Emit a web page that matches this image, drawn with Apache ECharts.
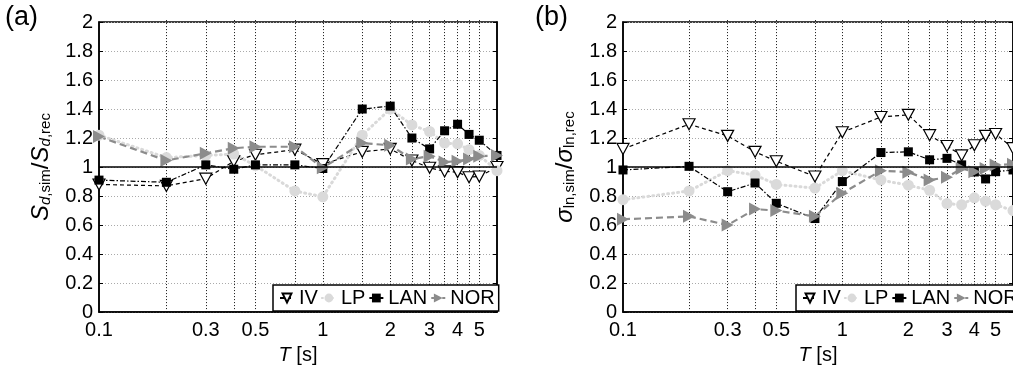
<!DOCTYPE html>
<html>
<head>
<meta charset="utf-8">
<script src="https://cdn.jsdelivr.net/npm/echarts@6/dist/echarts.min.js"></script>
<style>
html,body{margin:0;padding:0;background:#fff;}
#c{width:1013px;height:370px;}
</style>
</head>
<body>
<div id="c"></div>
<script>
const periods = [0.1,0.2,0.3,0.4,0.5,0.75,1,1.5,2,2.5,3,3.5,4,4.5,5,6];
const xTickLabels = [0.1,0.3,0.5,1,2,3,4,5];
const yTicks = [0,0.2,0.4,0.6,0.8,1,1.2,1.4,1.6,1.8,2];
const seriesNames = ['IV','LP','LAN','NOR'];

// panel (a): Sd,sim / Sd,rec
const a_IV  = [0.88,0.87,0.92,1.04,1.085,1.12,1.02,1.105,1.125,1.045,0.995,0.97,0.965,0.93,0.935,1.0];
const a_LP  = [1.22,1.065,1.08,1.09,1.01,0.835,0.795,1.22,1.40,1.29,1.245,1.165,1.16,1.12,1.08,0.975];
const a_LAN = [0.91,0.895,1.015,0.985,1.015,1.015,0.99,1.40,1.42,1.20,1.125,1.25,1.295,1.225,1.185,1.08];
const a_NOR = [1.21,1.045,1.095,1.13,1.14,1.14,0.995,1.165,1.15,1.055,1.075,1.035,1.04,1.055,1.075,1.08];

// panel (b): sigma ln,sim / sigma ln,rec
const b_IV  = [1.125,1.295,1.215,1.105,1.04,0.935,1.24,1.345,1.36,1.22,1.145,1.08,1.15,1.215,1.228,1.13];
const b_LP  = [0.775,0.835,0.975,0.945,0.88,0.855,0.975,0.91,0.875,0.84,0.748,0.74,0.788,0.765,0.74,0.70];
const b_LAN = [0.98,1.005,0.83,0.89,0.75,0.645,0.90,1.10,1.105,1.05,1.06,1.015,0.966,0.918,0.968,0.98];
const b_NOR = [0.64,0.66,0.60,0.71,0.70,0.66,0.82,0.975,0.965,0.91,0.929,0.99,0.968,0.99,1.014,1.02];

const refLine = 1;

const FONT = 'Liberation Sans, Arial, Helvetica, sans-serif';
const pair = v => periods.map((t,i)=>[t,v[i]]);

const styles = {
  IV:  {symbol:'path://M0,0 L10,0 L5,9 Z', symbolSize:[12,11], line:{color:'#000',width:1.2,type:[4,3]}, item:{color:'#fff',borderColor:'#000',borderWidth:1.2}},
  LP:  {symbol:'circle', symbolSize:11, line:{color:'#d9d9d9',width:3,type:[1,4],cap:'round'}, item:{color:'#dadada'}},
  LAN: {symbol:'rect', symbolSize:9, line:{color:'#000',width:1.2,type:[5,2,1.5,2]}, item:{color:'#000'}},
  NOR: {symbol:'path://M0,0 L9,5 L0,10 Z', symbolSize:[12,13], line:{color:'#8c8c8c',width:2.2,type:[7,4]}, item:{color:'#8c8c8c'}}
};

function mkSeries(name, data, gi){
  const s = styles[name];
  return {
    name, type:'line', xAxisIndex:gi, yAxisIndex:gi*2,
    data: pair(data), symbol:s.symbol, symbolSize:s.symbolSize,
    lineStyle:s.line, itemStyle:s.item, showSymbol:true, animation:false,
    clip:true, z:3
  };
}

const plotH = 292;
const grids = [
  {left:99, top:22, width:398, height:plotH},
  {left:623, top:22, width:395, height:plotH}
];

function xAxisOf(gi){
  return {
    type:'log', logBase:10, gridIndex:gi, min:0.1, max:6,
    name:'{it|T}{n| [s]}', nameLocation:'middle', nameGap:28,
    nameTextStyle:{rich:{it:{fontFamily:FONT,fontSize:20,fontStyle:'italic',color:'#000'},n:{fontFamily:FONT,fontSize:20,color:'#000'}}},
    axisLine:{show:true,lineStyle:{color:'#000',width:1.5}},
    axisTick:{show:true,inside:true,length:plotH,customValues:periods.slice(1,15),lineStyle:{color:'#111',width:1,type:[1,2]}},
    minorTick:{show:false},
    splitLine:{show:false},
    minorSplitLine:{show:false},
    axisLabel:{customValues:xTickLabels,fontFamily:FONT,fontSize:20,color:'#000',margin:8,formatter:v=>String(+(+v).toPrecision(3))}
  };
}
function yAxisOf(gi, nameRich){
  return [{
    type:'value', gridIndex:gi, min:0, max:2, interval:0.2,
    name:nameRich.text, nameLocation:'middle', nameGap:nameRich.gap, nameRotate:90,
    nameTextStyle:{rich:nameRich.rich},
    axisLine:{show:true,lineStyle:{color:'#000',width:1.5}},
    axisTick:{show:true,inside:true,length:4,lineStyle:{color:'#000'}},
    axisLabel:{fontFamily:FONT,fontSize:20,color:'#000',margin:6},
    splitLine:{show:true,lineStyle:{color:'#aaa',width:1,type:[1,2]}}
  },{
    type:'value', gridIndex:gi, min:0, max:2, interval:0.2, position:'right',
    axisLine:{show:true,lineStyle:{color:'#000',width:1.5}},
    axisTick:{show:true,inside:true,length:4,lineStyle:{color:'#000'}},
    axisLabel:{show:false}, splitLine:{show:false}
  }];
}

const richA = {
  text:'{it|S}{sit|d}{sub|,sim}{n|/}{it|S}{sit|d}{sub|,rec}', gap:40,
  rich:{
    it:{fontFamily:FONT,fontSize:24,fontStyle:'italic',color:'#000',lineHeight:24,verticalAlign:'top',padding:[0,0,8,0]},
    n:{fontFamily:FONT,fontSize:24,color:'#000',lineHeight:24,verticalAlign:'top',padding:[0,0,8,0]},
    sit:{fontFamily:FONT,fontSize:15,fontStyle:'italic',color:'#000',lineHeight:15,verticalAlign:'bottom'},
    sub:{fontFamily:FONT,fontSize:15,color:'#000',lineHeight:15,verticalAlign:'bottom'}
  }
};
const richB = {
  text:'{it|σ}{sub|ln,sim}{n|/}{it|σ}{sub|ln,rec}', gap:44,
  rich:{
    it:{fontFamily:FONT,fontSize:24,fontStyle:'italic',color:'#000',lineHeight:24,verticalAlign:'top',padding:[0,0,8,0]},
    n:{fontFamily:FONT,fontSize:24,color:'#000',lineHeight:24,verticalAlign:'top',padding:[0,0,8,0]},
    sub:{fontFamily:FONT,fontSize:15,color:'#000',lineHeight:15,verticalAlign:'bottom'}
  }
};

function legendOf(left){
  return {
    left:left, top:285, width:240, orient:'horizontal', data:seriesNames,
    itemWidth:14, itemHeight:11, itemGap:3,
    padding:[3,4,3,6],
    backgroundColor:'#fff', borderColor:'#000', borderWidth:1.5, borderRadius:0,
    textStyle:{fontFamily:FONT,fontSize:20,color:'#000'},
    selectedMode:false
  };
}

const series = [];
const dataA = {IV:a_IV, LP:a_LP, LAN:a_LAN, NOR:a_NOR};
const dataB = {IV:b_IV, LP:b_LP, LAN:b_LAN, NOR:b_NOR};
[dataA,dataB].forEach((d,gi)=>{
  series.push({
    type:'line', xAxisIndex:gi, yAxisIndex:gi*2, data:[], silent:true, animation:false,
    markLine:{silent:true, symbol:['none','none'], label:{show:false}, animation:false,
      lineStyle:{color:'#000',width:1.5,type:'solid'}, data:[{yAxis:refLine}]}
  });
  seriesNames.forEach(n=>series.push(mkSeries(n,d[n],gi)));
});

const chart = echarts.init(document.getElementById('c'), null, {renderer:'canvas'});
chart.setOption({
  animation:false,
  backgroundColor:'#fff',
  grid: grids.map(g=>Object.assign({show:true,borderColor:'#000',borderWidth:1.5,backgroundColor:'transparent'},g)),
  xAxis:[xAxisOf(0), xAxisOf(1)],
  yAxis:[...yAxisOf(0,richA), ...yAxisOf(1,richB)],
  legend:[legendOf(273), legendOf(796)],
  graphic:[
    {type:'text', left:5, top:4, style:{text:'(a)', fontFamily:FONT, fontSize:27, fill:'#000'}},
    {type:'text', left:535, top:4, style:{text:'(b)', fontFamily:FONT, fontSize:27, fill:'#000'}}
  ],
  series
});
</script>
</body>
</html>
